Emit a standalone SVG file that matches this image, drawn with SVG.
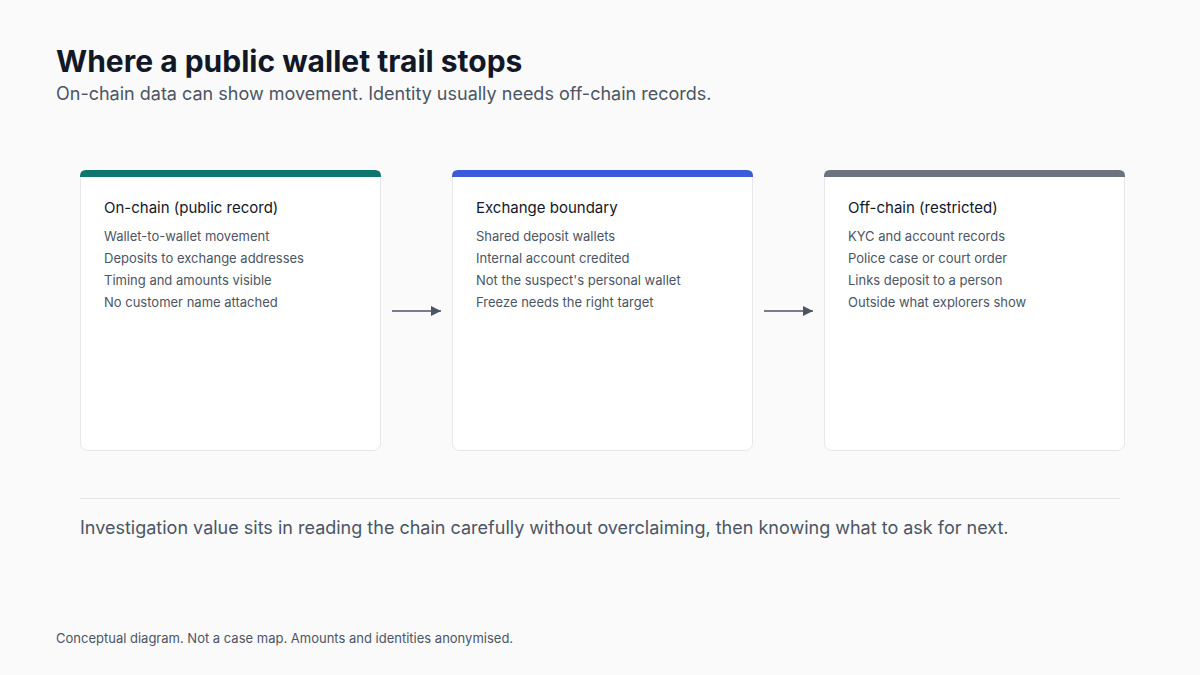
<svg xmlns="http://www.w3.org/2000/svg" width="1200" height="675" viewBox="0 0 1200 675">
<defs>
<marker id="arr" viewBox="0 0 10 10" refX="10" refY="5" markerWidth="10" markerHeight="10" markerUnits="userSpaceOnUse" orient="auto"><path d="M0,0 L10,5 L0,10 z" fill="#4b5563"/></marker>
</defs>
<style>
text{font-family:Inter,"Noto Sans","Liberation Sans",sans-serif}
.title{font-size:30px;font-weight:700;fill:#111827}
.sub{font-size:18px;fill:#4b5563}
.card{fill:#ffffff;stroke:#e5e7eb;stroke-width:1}
.ct{font-size:15px;fill:#111827}
.it{font-size:13px;fill:#4b5563}
.conn{stroke:#4b5563;stroke-width:1.6;fill:none}
.note{font-size:18px;fill:#4b5563}
.foot{font-size:13px;fill:#4b5563}
</style>
<rect width="1200" height="675" fill="#fafafa"/>
<text class="title" x="56" y="72">Where a public wallet trail stops</text>
<text class="sub" x="56" y="100">On-chain data can show movement. Identity usually needs off-chain records.</text>
<g id="node-onchain">
<rect class="card" x="80.5" y="170.5" width="300" height="280" rx="7"/>
<path d="M80,177 V176 Q80,170 86,170 H375 Q381,170 381,176 V177 Z" fill="#0f766e"/>
<text class="ct" x="104" y="213">On-chain (public record)</text>
<text class="it" x="104" y="241">Wallet-to-wallet movement</text>
<text class="it" x="104" y="263">Deposits to exchange addresses</text>
<text class="it" x="104" y="285">Timing and amounts visible</text>
<text class="it" x="104" y="307">No customer name attached</text>
</g>
<g id="node-exchange">
<rect class="card" x="452.5" y="170.5" width="300" height="280" rx="7"/>
<path d="M452,177 V176 Q452,170 458,170 H747 Q753,170 753,176 V177 Z" fill="#3b5bdb"/>
<text class="ct" x="476" y="213">Exchange boundary</text>
<text class="it" x="476" y="241">Shared deposit wallets</text>
<text class="it" x="476" y="263">Internal account credited</text>
<text class="it" x="476" y="285">Not the suspect's personal wallet</text>
<text class="it" x="476" y="307">Freeze needs the right target</text>
</g>
<g id="node-offchain">
<rect class="card" x="824.5" y="170.5" width="300" height="280" rx="7"/>
<path d="M824,177 V176 Q824,170 830,170 H1119 Q1125,170 1125,176 V177 Z" fill="#6b7280"/>
<text class="ct" x="848" y="213">Off-chain (restricted)</text>
<text class="it" x="848" y="241">KYC and account records</text>
<text class="it" x="848" y="263">Police case or court order</text>
<text class="it" x="848" y="285">Links deposit to a person</text>
<text class="it" x="848" y="307">Outside what explorers show</text>
</g>
<g id="connectors">
<line class="conn" x1="392" y1="311" x2="441" y2="311" marker-end="url(#arr)"/>
<line class="conn" x1="764" y1="311" x2="813" y2="311" marker-end="url(#arr)"/>
</g>
<line x1="80" y1="498.5" x2="1120" y2="498.5" stroke="#e5e7eb" stroke-width="1"/>
<text class="note" x="80" y="534">Investigation value sits in reading the chain carefully without overclaiming, then knowing what to ask for next.</text>
<text class="foot" x="56" y="643">Conceptual diagram. Not a case map. Amounts and identities anonymised.</text>
</svg>
